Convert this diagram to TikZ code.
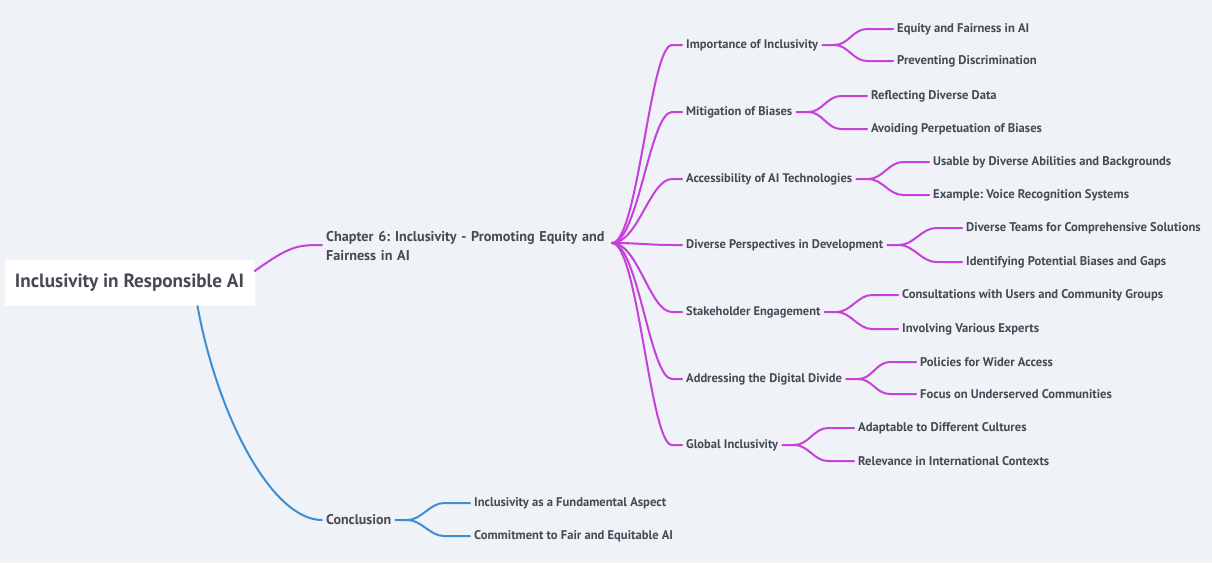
\documentclass[tikz,border=0pt]{standalone}
\usepackage{fontspec}
\setmainfont{PT Sans}
\usetikzlibrary{calc}
\definecolor{bg}{RGB}{239,242,246}
\definecolor{ink}{RGB}{70,74,84}
\definecolor{mag}{RGB}{199,64,218}
\definecolor{sky}{RGB}{62,142,212}
\tikzset{
  txt/.style={anchor=west, text=ink, inner xsep=4pt, inner ysep=2pt, font=\bfseries},
  rootbox/.style={fill=white, text=ink, font=\fontsize{19.2}{22}\selectfont\bfseries, inner xsep=8pt, inner ysep=14pt, minimum width=250pt},
  chap/.style={txt, font=\fontsize{14.2}{19}\selectfont\bfseries, align=left, text width=300pt},
  topic/.style={txt, font=\fontsize{12.5}{14}\selectfont\bfseries},
  leaf/.style={txt, font=\fontsize{12.6}{14}\selectfont\bfseries},
  mline/.style={draw=mag, line width=2pt, line cap=round},
  bline/.style={draw=sky, line width=2pt, line cap=round},
}
\begin{document}
\frenchspacing
\begin{tikzpicture}[x=1pt, y=-1pt]
\useasboundingbox (0,0) rectangle (1212,563);
\fill[bg] (0,0) rectangle (1212,563);

% root and first level
\node[rootbox] (root) at (129.5,283) {Inclusivity in Responsible AI};
\node[chap] (ch) at (322,246) {Chapter 6: Inclusivity - Promoting Equity and\\Fairness in AI};
\node[topic, font=\fontsize{14}{16}\selectfont\bfseries] (concl) at (322,520) {Conclusion};
\coordinate (hub) at (612,243);

% chapter topics
\node[topic] (t1) at (682,45)  {Importance of Inclusivity};
\node[topic] (t2) at (682,112) {Mitigation of Biases};
\node[topic] (t3) at (682,179) {Accessibility of AI Technologies};
\node[topic] (t4) at (682,245) {Diverse Perspectives in Development};
\node[topic] (t5) at (682,312) {Stakeholder Engagement};
\node[topic] (t6) at (682,379) {Addressing the Digital Divide};
\node[topic] (t7) at (682,445) {Global Inclusivity};

% leaves
\node[leaf] (l1a) at (893,29)  {Equity and Fairness in AI};
\node[leaf] (l1b) at (893,61)  {Preventing Discrimination};
\node[leaf] (l2a) at (867,96)  {Reflecting Diverse Data};
\node[leaf] (l2b) at (867,129) {Avoiding Perpetuation of Biases};
\node[leaf] (l3a) at (929,162) {Usable by Diverse Abilities and Backgrounds};
\node[leaf] (l3b) at (929,195) {Example: Voice Recognition Systems};
\node[leaf] (l4a) at (962,228) {Diverse Teams for Comprehensive Solutions};
\node[leaf] (l4b) at (962,262) {Identifying Potential Biases and Gaps};
\node[leaf] (l5a) at (898,295) {Consultations with Users and Community Groups};
\node[leaf] (l5b) at (898,329) {Involving Various Experts};
\node[leaf] (l6a) at (916,362) {Policies for Wider Access};
\node[leaf] (l6b) at (916,394) {Focus on Underserved Communities};
\node[leaf] (l7a) at (854,428) {Adaptable to Different Cultures};
\node[leaf] (l7b) at (854,461) {Relevance in International Contexts};
\node[leaf] (c1) at (470,503) {Inclusivity as a Fundamental Aspect};
\node[leaf] (c2) at (470,536) {Commitment to Fair and Equitable AI};

% root connectors
\draw[mline] ([yshift=12pt]root.east) .. controls +(35,-25) and +(-25,0) .. ([yshift=-2pt]ch.north west|-hub);
\draw[bline] ([xshift=68pt]root.south) .. controls +(20,110) and +(-50,0) .. (concl.west);

% chapter hub
\draw[mline] ([xshift=-2pt]ch.east|-hub) -- (hub);
\foreach \t in {t1,t2,t3,t4,t5,t6,t7}
  \draw[mline] (hub) .. controls +(26,0) and +(-22,0) .. ([xshift=-10pt]\t.west) -- (\t.west);

% topic to leaf connectors
\foreach \t/\a/\b in {t1/l1a/l1b, t2/l2a/l2b, t3/l3a/l3b, t4/l4a/l4b, t5/l5a/l5b, t6/l6a/l6b, t7/l7a/l7b}{
  \draw[mline] (\t.east) -- ([xshift=12pt]\t.east) .. controls +(14,0) and +(-14,0) .. ([xshift=-26pt]\a.west) -- (\a.west);
  \draw[mline] ([xshift=12pt]\t.east) .. controls +(14,0) and +(-14,0) .. ([xshift=-26pt]\b.west) -- (\b.west);
}
\draw[bline] (concl.east) -- ([xshift=12pt]concl.east) .. controls +(14,0) and +(-14,0) .. ([xshift=-26pt]c1.west) -- (c1.west);
\draw[bline] ([xshift=12pt]concl.east) .. controls +(14,0) and +(-14,0) .. ([xshift=-26pt]c2.west) -- (c2.west);
\end{tikzpicture}
\end{document}
